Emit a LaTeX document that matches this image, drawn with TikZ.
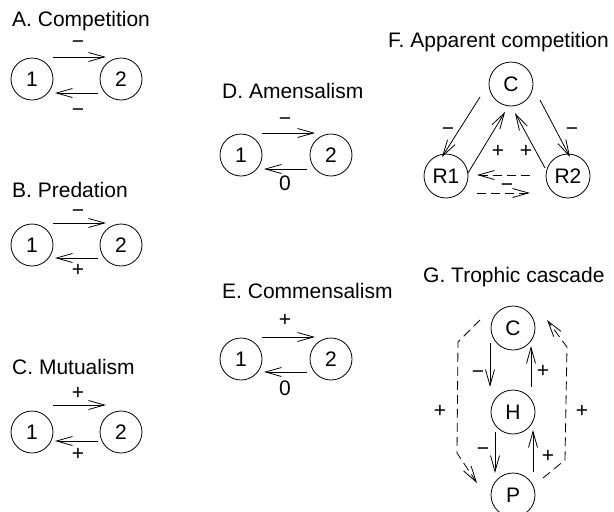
\documentclass[tikz,border=0pt]{standalone}
\usepackage{fontspec}
\setmainfont{Liberation Sans}
\usepackage{tikz}
\usetikzlibrary{arrows.meta,positioning}

\begin{document}
\begin{tikzpicture}[
    x=1pt, y=-1pt,
    every node/.style={font=\fontsize{21}{25}\selectfont, inner sep=0pt},
    species/.style={circle, draw, line width=0.8pt, minimum size=42pt},
    bigspecies/.style={species, minimum size=44pt},
    title/.style={anchor=base west},
    sign/.style={anchor=base},
    arrow/.style={line width=0.8pt, -{Straight Barb[length=16pt,width=9pt,line width=0.8pt]}},
    dasharrow/.style={arrow, dash pattern=on 9pt off 5pt}
]
\useasboundingbox (0,0) rectangle (614,512);

% A. Competition
\node[title] (titleA) at (12,26) {A. Competition};
\node[species] (a1) at (32,79) {1};
\node[species] (a2) at (121,79) {2};
\draw[arrow] ([shift={(21,-22)}]a1.center) -- ([shift={(-15,-22)}]a2.center);
\draw[arrow] ([shift={(-23,14)}]a2.center) -- ([shift={(23,14)}]a1.center);
\node[sign] at (78,48) {−};
\node[sign] at (78,116) {−};

% B. Predation
\node[title] (titleB) at (12,197) {B. Predation};
\node[species] (b1) at (32,245) {1};
\node[species] (b2) at (121,245) {2};
\draw[arrow] ([shift={(21,-22)}]b1.center) -- ([shift={(-15,-22)}]b2.center);
\draw[arrow] ([shift={(-23,13)}]b2.center) -- ([shift={(23,13)}]b1.center);
\node[sign] at (78,217) {−};
\node[sign] at (78,276) {+};

% C. Mutualism
\node[title] (titleC) at (12,374) {C. Mutualism};
\node[species] (c1) at (32,432) {1};
\node[species] (c2) at (121,432) {2};
\draw[arrow] ([shift={(21,-27)}]c1.center) -- ([shift={(-15,-27)}]c2.center);
\draw[arrow] ([shift={(-23,9)}]c2.center) -- ([shift={(23,9)}]c1.center);
\node[sign] at (78,399) {+};
\node[sign] at (78,460) {+};

% D. Amensalism
\node[title] (titleD) at (222,98) {D. Amensalism};
\node[species] (d1) at (241,155) {1};
\node[species] (d2) at (331,155) {2};
\draw[arrow] ([shift={(21,-22)}]d1.center) -- ([shift={(-16,-22)}]d2.center);
\draw[arrow] ([shift={(-24,14)}]d2.center) -- ([shift={(23,14)}]d1.center);
\node[sign] at (285,125) {−};
\node[sign] at (285,190) {0};

% E. Commensalism
\node[title] (titleE) at (222,298) {E. Commensalism};
\node[species] (e1) at (241,359) {1};
\node[species] (e2) at (331,359) {2};
\draw[arrow] ([shift={(21,-22)}]e1.center) -- ([shift={(-16,-22)}]e2.center);
\draw[arrow] ([shift={(-24,13)}]e2.center) -- ([shift={(23,13)}]e1.center);
\node[sign] at (285,326) {+};
\node[sign] at (285,395) {0};

% F. Apparent competition
\node[title] (titleF) at (388,47) {F. Apparent competition};
\node[bigspecies] (fC) at (511,84) {C};
\node[bigspecies] (fR1) at (446,176) {R1};
\node[bigspecies] (fR2) at (568,176) {R2};
\draw[arrow] ([shift={(-31,13)}]fC.center) -- ([shift={(-4,-19)}]fR1.center);
\draw[arrow] ([shift={(22,-3)}]fR1.center) -- ([shift={(-6,28)}]fC.center);
\draw[arrow] ([shift={(-23,-8)}]fR2.center) -- ([shift={(4,29)}]fC.center);
\draw[arrow] ([shift={(29,16)}]fC.center) -- ([shift={(2,-19)}]fR2.center);
\draw[dasharrow] ([shift={(-38,-1)}]fR2.center) -- ([shift={(31,-1)}]fR1.center);
\draw[dasharrow] ([shift={(31,17)}]fR1.center) -- ([shift={(-38,17)}]fR2.center);
\node[sign] at (448,135) {−};
\node[sign] at (498,157) {+};
\node[sign] at (526,157) {+};
\node[sign] at (572,135) {−};
\node[sign] at (507,191) {−};

% G. Trophic cascade
\node[title] (titleG) at (423,282) {G. Trophic cascade};
\node[bigspecies] (gC) at (513,328) {C};
\node[bigspecies] (gH) at (513,412) {H};
\node[bigspecies] (gP) at (513,495) {P};
\draw[arrow] ([shift={(-23,15)}]gC.center) -- ([shift={(-23,-25)}]gH.center);
\draw[arrow] ([shift={(18,-25)}]gH.center) -- ([shift={(18,18)}]gC.center);
\draw[arrow] ([shift={(-18,20)}]gH.center) -- ([shift={(-18,-22)}]gP.center);
\draw[arrow] ([shift={(20,-23)}]gP.center) -- ([shift={(20,18)}]gH.center);
\draw[dasharrow] ([shift={(-33,-8)}]gC.center) -- ([shift={(-55,14)}]gC.center)
    -- ([shift={(-56,-42)}]gP.center) -- ([shift={(-36,-12)}]gP.center);
\draw[dasharrow] ([shift={(30,-17)}]gP.center) -- ([shift={(52,-35)}]gP.center)
    -- ([shift={(54,19)}]gC.center) -- ([shift={(34,-8)}]gC.center);
\node[sign] at (478,378) {−};
\node[sign] at (543,377) {+};
\node[sign] at (483,455) {−};
\node[sign] at (548,462) {+};
\node[sign] at (440,417) {+};
\node[sign] at (582,417) {+};

\end{tikzpicture}
\end{document}
